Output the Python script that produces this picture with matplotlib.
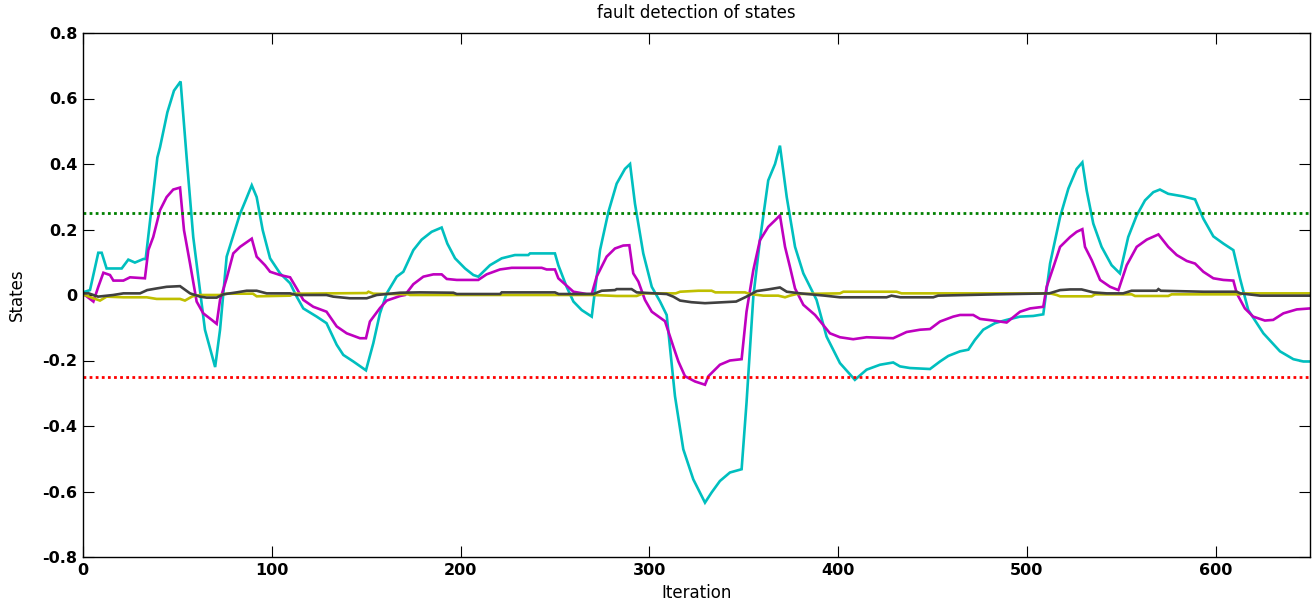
import matplotlib
matplotlib.use("Agg")
import matplotlib.pyplot as plt

# ---- data (iteration, state value) ----
cyan_pts = [(0,0),(1,0.01),(3.7,0.015),(8.1,0.129),(9.9,0.129),(12.5,0.081),(20.5,0.081),(24,0.108),
    (27.5,0.099),(32,0.11),(33.2,0.11),(36.4,0.269),(39.4,0.42),(40.8,0.451),(44.7,0.558),(48.2,0.624),
    (51.7,0.652),(54.9,0.42),(58.4,0.177),(64.6,-0.106),(70,-0.22),(72.6,-0.106),(76.1,0.117),(80.5,0.198),
    (83.2,0.248),(85.8,0.284),(89.4,0.335),(92,0.299),(95.2,0.198),(99.1,0.112),(104.4,0.066),(109.7,0.036),
    (113.2,-0.005),(116.7,-0.041),(123.8,-0.066),(129,-0.086),(134.4,-0.152),(137.9,-0.183),(143.2,-0.203),
    (149.9,-0.23),(153.8,-0.147),(157.3,-0.056),(160.9,0.005),(166.2,0.056),(169.7,0.071),(175,0.137),
    (179.4,0.169),(184.7,0.193),(190,0.206),(193,0.157),(197.1,0.112),(202.4,0.081),(206.8,0.061),
    (209.4,0.056),(215.6,0.091),(221.8,0.112),(228.8,0.122),(235.9,0.122),(236.8,0.127),(250,0.127),
    (251.8,0.091),(256.2,0.025),(259.8,-0.02),(264.2,-0.046),(269.5,-0.066),(273.9,0.137),(278.3,0.253),
    (282.7,0.34),(287.1,0.385),(289.8,0.40),(292.4,0.279),(296.8,0.127),(301.3,0.025),(305.7,-0.02),
    (309.2,-0.061),(313.6,-0.309),(318,-0.471),(323.3,-0.563),(329.5,-0.634),(333,-0.603),(337.4,-0.568),
    (342.7,-0.542),(348.9,-0.532),(351.5,-0.329),(355.1,-0.005),(358.6,0.167),(363,0.35),(366.6,0.40),
    (369.2,0.456),(372.8,0.299),(377.2,0.147),(381.6,0.066),(388.6,-0.015),(393.9,-0.127),(401,-0.208),
    (408.9,-0.259),(415.1,-0.228),(422.2,-0.213),(429.2,-0.206),(432.8,-0.218),(438.1,-0.223),
    (448.7,-0.226),(454,-0.203),(458.4,-0.186),(464.6,-0.172),(469,-0.167),(472.5,-0.137),(476.9,-0.106),
    (483.1,-0.086),(489.3,-0.076),(496.4,-0.066),(503.4,-0.064),(508.7,-0.059),(512.3,0.096),(517.6,0.238),
    (522,0.325),(526.4,0.385),(529.4,0.405),(531.7,0.319),(535.2,0.218),(539.6,0.147),(544.9,0.091),
    (549.3,0.066),(553.7,0.177),(558.2,0.243),(562.6,0.289),(567,0.314),(570.5,0.322),(574.9,0.309),
    (582.9,0.301),(589.1,0.292),(593.5,0.233),(598.8,0.179),(604.1,0.157),(609.4,0.137),(612.9,0.051),
    (617.3,-0.046),(625.3,-0.117),(634.1,-0.172),(641.2,-0.196),(646.5,-0.203),(650,-0.203)]

magenta_pts = [(0,0),(1,0),(5.5,-0.02),(8.1,0.025),(10.8,0.068),(14.3,0.061),(16.1,0.044),(21.4,0.044),
    (24.9,0.054),(32.8,0.051),(34.6,0.137),(37.2,0.177),(40.8,0.259),(44.3,0.299),(47.8,0.322),(51.4,0.328),
    (53.5,0.198),(56.7,0.096),(60.2,-0.02),(63.7,-0.056),(68.2,-0.076),(70.8,-0.088),(72.6,-0.015),
    (76.1,0.051),(79.6,0.127),(83.2,0.147),(89.4,0.172),(92,0.117),(96.4,0.091),(99.1,0.071),(104.4,0.061),
    (109.7,0.054),(113.2,0.02),(116.7,-0.015),(122,-0.036),(129,-0.051),(134.4,-0.096),(139.7,-0.117),
    (146.7,-0.132),(149.9,-0.132),(152,-0.081),(157.3,-0.04),(160.9,-0.017),(168,-0.003),(170.6,0),
    (175,0.033),(180.3,0.056),(185.6,0.063),(190,0.063),(192.7,0.049),(198,0.046),(209.4,0.046),
    (213.8,0.063),(220.9,0.078),(227.1,0.083),(243,0.083),(245.6,0.078),(250,0.078),(251.8,0.051),
    (259.8,0.01),(266.8,0.003),(269.5,0.003),(272.1,0.056),(277.4,0.117),(281.8,0.142),(286.2,0.151),
    (289.4,0.152),(291.5,0.066),(294.2,0.041),(297.7,-0.015),(301.3,-0.051),(308.3,-0.08),(312.7,-0.157),
    (315.4,-0.203),(318.9,-0.248),(324.2,-0.264),(329.5,-0.274),(331.3,-0.248),(337.4,-0.213),
    (342.7,-0.2),(348.9,-0.196),(351.5,-0.051),(355.1,0.076),(358.6,0.167),(363,0.208),(366.6,0.228),
    (369.2,0.243),(371.9,0.147),(374.5,0.086),(377.2,0.02),(381.6,-0.03),(387.8,-0.061),(391.3,-0.086),
    (395.7,-0.117),(401,-0.129),(408,-0.135),(415.1,-0.129),(429.2,-0.132),(436.3,-0.113),(443.4,-0.106),
    (448.7,-0.104),(454,-0.081),(461,-0.066),(464.6,-0.061),(471.6,-0.061),(475.2,-0.073),(482.2,-0.078),
    (489.3,-0.084),(496.4,-0.051),(501.7,-0.041),(508.7,-0.036),(510.5,0.025),(514.1,0.086),(517.6,0.147),
    (522.9,0.177),(526.4,0.193),(529.4,0.201),(530.8,0.147),(534.4,0.106),(538.8,0.046),(544.1,0.025),
    (548.5,0.015),(552.9,0.091),(558.2,0.147),(563.5,0.169),(569.7,0.185),(574.9,0.147),(579.4,0.122),
    (584.7,0.104),(589.1,0.096),(593.5,0.071),(598.8,0.051),(604.1,0.046),(609.4,0.044),(611.2,0.005),
    (615.5,-0.041),(619.9,-0.066),(626.1,-0.078),(630.5,-0.076),(635.9,-0.056),(643,-0.044),(650,-0.041)]

yellow_pts = [(0,0),(1,0),(5.5,-0.01),(9,-0.017),(12.5,-0.005),(21.4,-0.007),(33.7,-0.007),(39,-0.012),
    (51.4,-0.012),(54,-0.017),(58,-0.004),(62,0),(72.6,0),(76.1,0.004),(90,0.004),(92,-0.004),
    (109.7,-0.002),(112,0.004),(150.3,0.006),(151.2,0.01),(153.8,0.004),(172.3,0.002),(173.2,0),(270,0),
    (282.7,-0.003),(293.3,-0.003),(296.8,0.005),(314,0.005),(316.3,0.01),(326,0.013),(333,0.013),
    (335,0.008),(350.7,0.008),(353.3,0.003),(360.4,-0.002),(368.3,-0.002),(371.9,-0.007),(374.5,-0.002),
    (378,0.003),(401,0.005),(402.8,0.01),(431,0.01),(433.6,0.005),(512.3,0.005),(515.8,0),(517.6,-0.004),
    (534.4,-0.004),(536.1,0.002),(555.5,0.002),(557.3,-0.003),(574.9,-0.003),(576.7,0.002),(613,0.002),
    (614.6,0.005),(650,0.005)]

gray_pts = [(0,0.005),(3,0.005),(8,-0.005),(16,0),(21.4,0.005),(30.2,0.005),(34,0.015),(39,0.02),
    (44.3,0.025),(51.4,0.027),(56.7,0.005),(62,-0.005),(65.5,-0.008),(70.8,-0.008),(74.3,0.002),
    (81.4,0.008),(86.7,0.013),(92,0.013),(97.3,0.005),(109.7,0.005),(113.2,0),(129,0),(132.6,-0.005),
    (141.4,-0.01),(150.3,-0.01),(155.6,0),(167.9,0.007),(178.5,0.008),(196.2,0.007),(198,0.003),(221,0.003),
    (221.8,0.008),(250,0.008),(252,0.003),(270.3,0.003),(274.8,0.013),(281.8,0.015),(282.7,0.018),
    (290.6,0.018),(293.3,0.008),(309.2,0.003),(312.7,-0.005),(316.3,-0.017),(322.3,-0.022),(329.5,-0.025),
    (346,-0.02),(351.5,-0.005),(356.9,0.012),(363,0.017),(369.2,0.023),(372.8,0.01),(380,0.005),
    (393,-0.002),(401,-0.007),(425.7,-0.007),(428.3,-0.002),(433,-0.007),(450.4,-0.007),(453,-0.002),
    (483.5,0.002),(511.9,0.005),(517.6,0.015),(522.9,0.017),(529,0.017),(535.2,0.008),(542.3,0.005),
    (551,0.005),(555.5,0.013),(568.8,0.013),(569.7,0.018),(571,0.013),(593.5,0.01),(611.2,0.01),
    (613,0.005),(623.6,-0.002),(650,-0.002)]

upper_threshold = 0.25
lower_threshold = -0.25
x_limits = [0, 650]
y_limits = [-0.8, 0.8]
x_ticks = [0, 100, 200, 300, 400, 500, 600]
y_ticks = [-0.8, -0.6, -0.4, -0.2, 0, 0.2, 0.4, 0.6, 0.8]
y_tick_labels = ["-0.8", "-0.6", "-0.4", "-0.2", "0", "0.2", "0.4", "0.6", "0.8"]

plt.rcParams['font.family'] = ['DejaVu Sans']

fig = plt.figure(figsize=(13.12, 6.07), dpi=100)
ax = fig.add_axes([83/1312, 50/607, (1310-83)/1312, (557-33)/607])

series = [(cyan_pts, (0, 0.75, 0.75)), (magenta_pts, (0.75, 0, 0.75)),
          (yellow_pts, (0.75, 0.75, 0)), (gray_pts, (0.25, 0.25, 0.25))]
for pts, col in series:
    xs = [p[0] for p in pts]
    ys = [p[1] for p in pts]
    ax.plot(xs, ys, color=col, linewidth=1.9, solid_joinstyle='miter')

ax.axhline(upper_threshold, color=(0, 0.5, 0), linestyle=(0, (1, 1.2)), linewidth=2.0)
ax.axhline(lower_threshold, color=(1, 0, 0), linestyle=(0, (1, 1.2)), linewidth=2.0)

ax.set_xlim(x_limits)
ax.set_ylim(y_limits)
ax.set_xticks(x_ticks)
ax.set_xticklabels([str(t) for t in x_ticks])
ax.set_yticks(y_ticks)
ax.set_yticklabels(y_tick_labels)
ax.tick_params(direction='in', length=8, width=0.8, top=True, right=True,
               labelsize=11.5, pad=4)
for lab in ax.get_xticklabels() + ax.get_yticklabels():
    lab.set_fontweight('bold')
for s in ax.spines.values():
    s.set_linewidth(1.0)
    s.set_color('black')

ax.set_title("fault detection of states", fontsize=12, pad=10.5)
ax.set_xlabel("Iteration", fontsize=12, labelpad=5)
ax.set_ylabel("States", fontsize=12, labelpad=12)

fig.savefig("out.png", dpi=100)
